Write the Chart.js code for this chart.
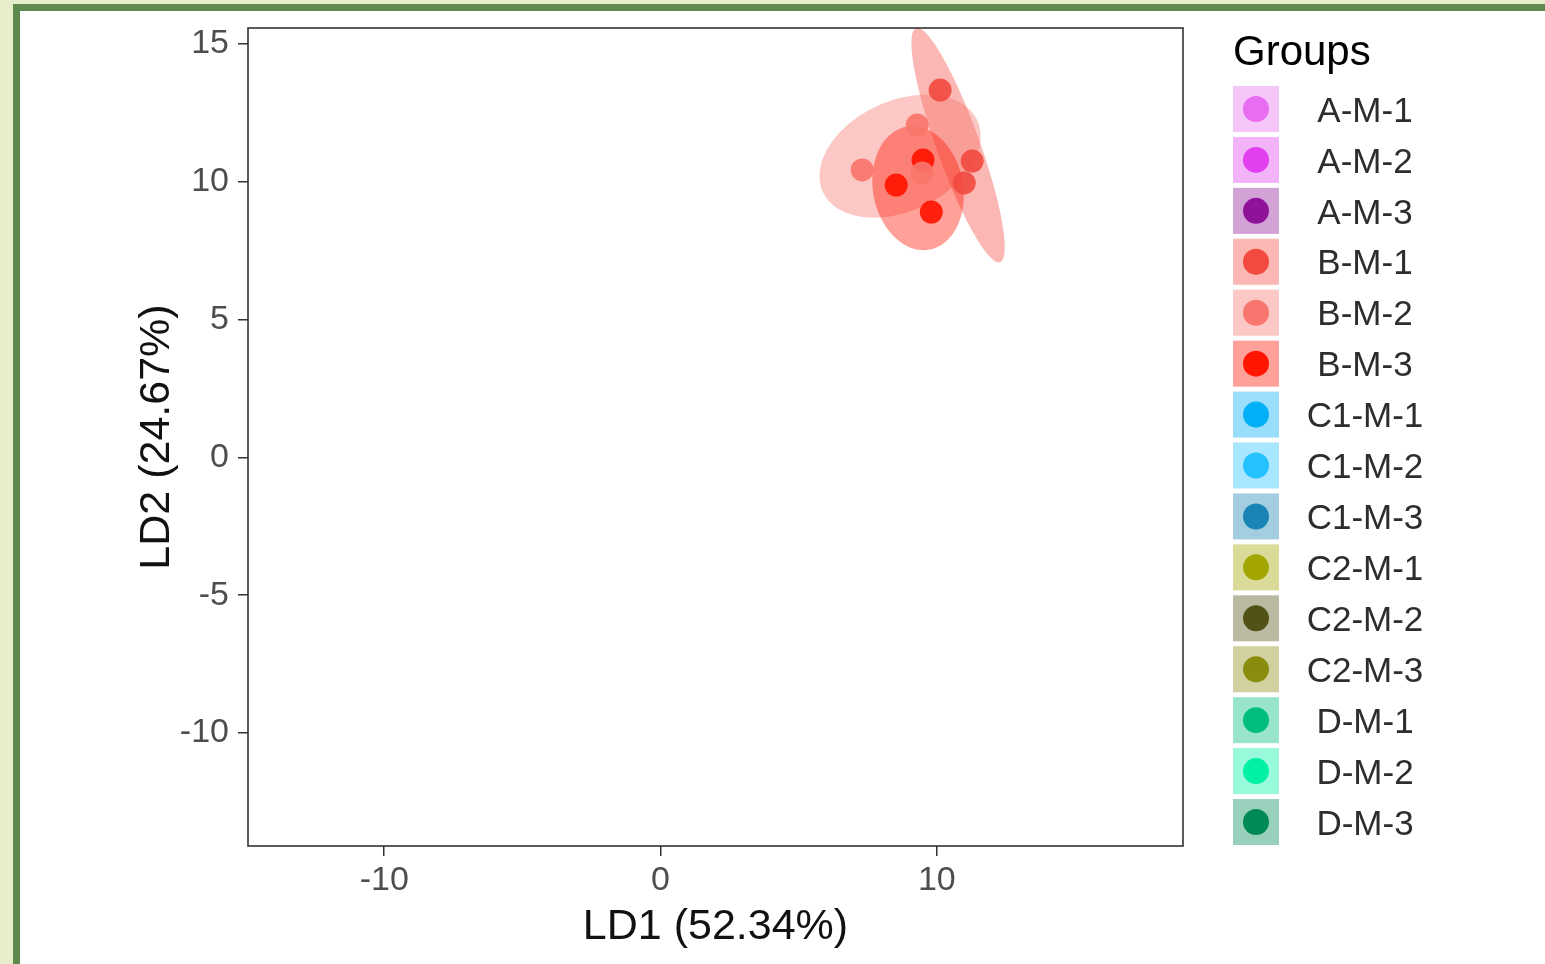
<!DOCTYPE html>
<html>
<head>
<meta charset="utf-8">
<title>LDA groups</title>
<script src="https://cdn.jsdelivr.net/npm/chart.js@4/dist/chart.umd.min.js"></script>
<style>
  body { margin: 0; width: 1545px; height: 964px; overflow: hidden; background: #e8edcb; }
  #frame { position: absolute; left: 13px; top: 4px; width: 1600px; height: 1000px;
           border-left: 7px solid #5e8a4e; border-top: 7px solid #5e8a4e; background: #fff; }
  #lda { position: absolute; left: 0; top: 0; }
</style>
</head>
<body>
<div id="frame"><canvas id="lda" width="1525" height="953"></canvas></div>
<script>
// Groups and their colours
const groups = ['A-M-1', 'A-M-2', 'A-M-3', 'B-M-1', 'B-M-2', 'B-M-3',
                'C1-M-1', 'C1-M-2', 'C1-M-3', 'C2-M-1', 'C2-M-2', 'C2-M-3',
                'D-M-1', 'D-M-2', 'D-M-3'];
const groupColors = ['#e86df0', '#e040ee', '#8f1399', '#f24b42', '#f8766d', '#ff1500',
                     '#00b0f6', '#26c2ff', '#1a85b5', '#a3a500', '#525217', '#8a8c10',
                     '#00bf7d', '#00f0a5', '#008a55'];

// Sample scores (LD1, LD2) - only the B groups fall inside the visible window
const ld1BM1 = [10.12, 11.28, 10.99];
const ld2BM1 = [13.33, 10.75, 9.96];
const ld1BM2 = [9.29, 7.30, 9.47];
const ld2BM2 = [12.06, 10.43, 10.32];
const ld1BM3 = [9.50, 8.53, 9.80];
const ld2BM3 = [10.79, 9.88, 8.90];

// Confidence ellipses: [centre LD1, centre LD2, semi-major, semi-minor, angle deg]
const ellipseBM1 = [10.77, 11.33, 4.51, 0.78, 109.7];
const ellipseBM2 = [8.67, 10.93, 3.08, 2.0, 25];
const ellipseBM3 = [9.32, 9.77, 2.27, 1.63, 100.6];

// Axis settings
const xTicks = [-10, 0, 10];
const yTicks = [-10, -5, 0, 5, 10, 15];
const xRange = [-14.93, 18.91];
const yRange = [-14.10, 15.58];

const scores = {
    'B-M-1': [ld1BM1, ld2BM1],
    'B-M-2': [ld1BM2, ld2BM2],
    'B-M-3': [ld1BM3, ld2BM3]
};
const ellipses = [
    { group: 'B-M-1', params: ellipseBM1 },
    { group: 'B-M-2', params: ellipseBM2 },
    { group: 'B-M-3', params: ellipseBM3 }
];

function withAlpha(hex, a) {
    const n = parseInt(hex.slice(1), 16);
    return 'rgba(' + (n >> 16) + ',' + ((n >> 8) & 255) + ',' + (n & 255) + ',' + a + ')';
}

const FONT = "'Liberation Sans', Arial, sans-serif";

const datasets = groups.map((g, i) => {
    const s = scores[g];
    const pts = s ? s[0].map((x, k) => ({ x: x, y: s[1][k] })) : [];
    return {
        label: g,
        data: pts,
        backgroundColor: withAlpha(groupColors[i], 0.92),
        borderWidth: 0,
        pointRadius: 11.5,
        pointHoverRadius: 11.5
    };
});

// Ellipses drawn under the points
const ellipsePlugin = {
    id: 'ellipses',
    beforeDatasetsDraw(chart) {
        const { ctx, chartArea, scales } = chart;
        ctx.save();
        ctx.beginPath();
        ctx.rect(chartArea.left, chartArea.top, chartArea.width, chartArea.height);
        ctx.clip();
        ellipses.forEach(e => {
            const [cx, cy, a, b, deg] = e.params;
            const th = deg * Math.PI / 180;
            ctx.beginPath();
            for (let i = 0; i <= 180; i++) {
                const t = i / 180 * 2 * Math.PI;
                const dx = a * Math.cos(t), dy = b * Math.sin(t);
                const vx = cx + dx * Math.cos(th) - dy * Math.sin(th);
                const vy = cy + dx * Math.sin(th) + dy * Math.cos(th);
                const px = scales.x.getPixelForValue(vx);
                const py = scales.y.getPixelForValue(vy);
                if (i === 0) ctx.moveTo(px, py); else ctx.lineTo(px, py);
            }
            ctx.closePath();
            ctx.fillStyle = withAlpha(groupColors[groups.indexOf(e.group)], 0.4);
            ctx.fill();
        });
        ctx.restore();
    }
};

// Panel border and the legend on the right
const panelPlugin = {
    id: 'panel',
    afterDraw(chart) {
        const { ctx, chartArea } = chart;
        ctx.save();
        ctx.strokeStyle = '#333333';
        ctx.lineWidth = 1.6;
        ctx.strokeRect(chartArea.left, chartArea.top, chartArea.width, chartArea.height);

        const keyLeft = chartArea.right + 50;
        const top = 75, pitch = 50.93, size = 46;
        ctx.fillStyle = '#000';
        ctx.font = '42px ' + FONT;
        ctx.textAlign = 'left';
        ctx.textBaseline = 'alphabetic';
        ctx.fillText('Groups', keyLeft, 54);

        chart.data.datasets.forEach((ds, i) => {
            const y0 = top + i * pitch;
            ctx.fillStyle = withAlpha(groupColors[i], 0.4);
            ctx.fillRect(keyLeft, y0, size, size);
            ctx.beginPath();
            ctx.arc(keyLeft + size / 2, y0 + size / 2, 13, 0, 2 * Math.PI);
            ctx.fillStyle = groupColors[i];
            ctx.fill();
            ctx.fillStyle = '#2b2e2b';
            ctx.font = '35px ' + FONT;
            ctx.textAlign = 'center';
            ctx.textBaseline = 'middle';
            ctx.fillText(ds.label, keyLeft + 132, y0 + size / 2 + 3);
        });
        ctx.restore();
    }
};

const axisGrid = { display: true, drawOnChartArea: false, tickLength: 10, color: '#333333', lineWidth: 1.5 };

new Chart(document.getElementById('lda'), {
    type: 'scatter',
    data: { datasets: datasets },
    options: {
        responsive: false,
        animation: false,
        devicePixelRatio: 1,
        layout: { padding: { top: 17, right: 362, left: 0, bottom: 0 } },
        plugins: { legend: { display: false }, tooltip: { enabled: false } },
        scales: {
            x: {
                type: 'linear',
                min: xRange[0],
                max: xRange[1],
                afterBuildTicks(scale) { scale.ticks = xTicks.map(v => ({ value: v })); },
                afterFit(scale) { scale.height = 118; scale.paddingLeft = 0; scale.paddingRight = 0; },
                ticks: { color: '#4d4d4d', font: { family: FONT, size: 34 }, padding: 4, maxRotation: 0 },
                grid: axisGrid,
                border: { display: false },
                title: { display: true, text: 'LD1 (52.34%)', color: '#111', font: { family: FONT, size: 43 },
                         padding: { top: 0, bottom: 11 } }
            },
            y: {
                type: 'linear',
                min: yRange[0],
                max: yRange[1],
                afterBuildTicks(scale) { scale.ticks = yTicks.map(v => ({ value: v })); },
                afterFit(scale) { scale.width = 228; scale.paddingTop = 0; scale.paddingBottom = 0; },
                ticks: { color: '#4d4d4d', font: { family: FONT, size: 34 }, padding: 9 },
                grid: axisGrid,
                border: { display: false },
                title: { display: true, text: 'LD2 (24.67%)', color: '#111', font: { family: FONT, size: 43 },
                         padding: { top: 111, bottom: 0 } }
            }
        }
    },
    plugins: [ellipsePlugin, panelPlugin]
});
</script>
</body>
</html>
